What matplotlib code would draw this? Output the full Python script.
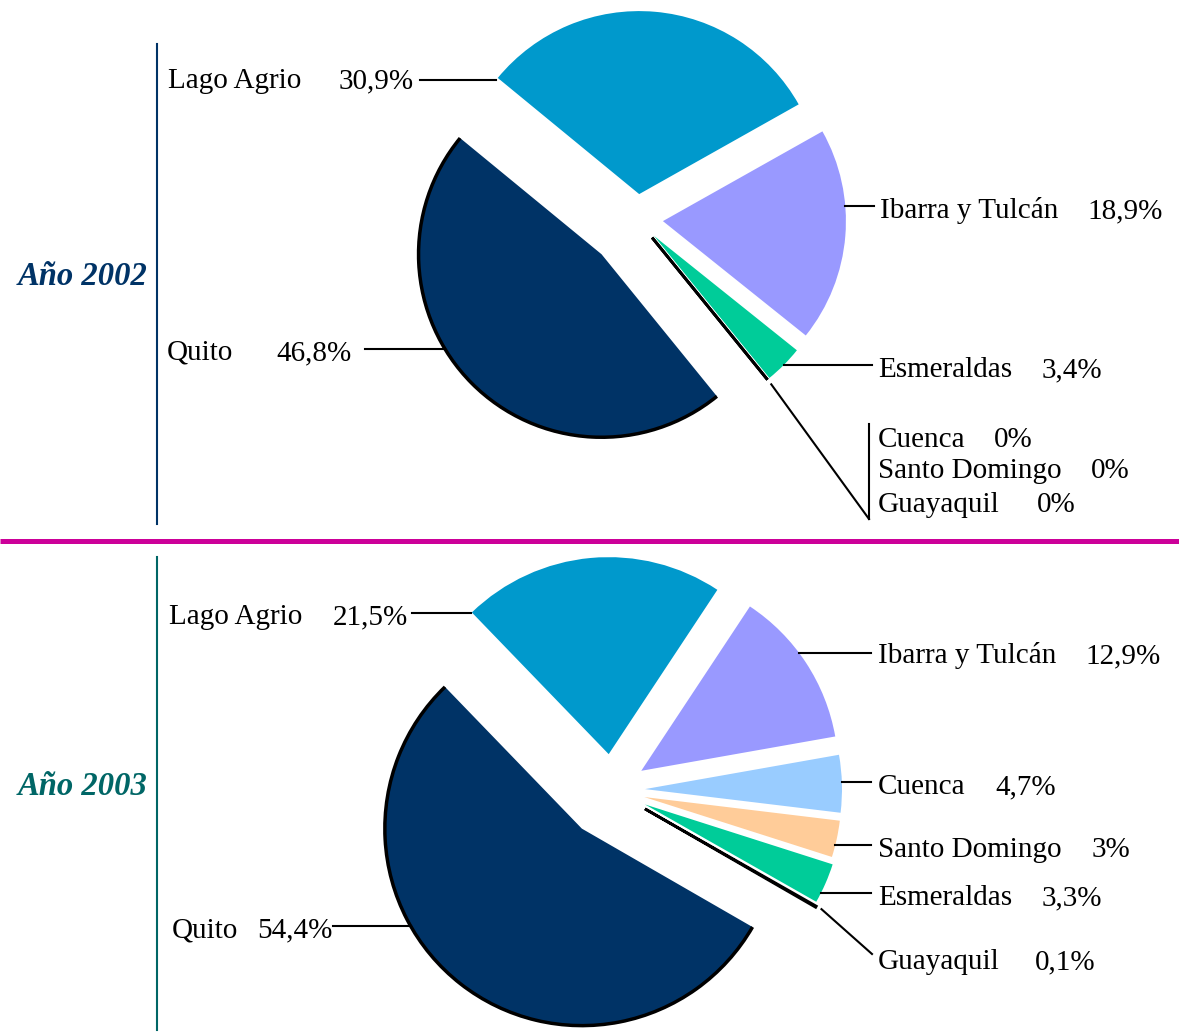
import numpy as np
import matplotlib.pyplot as plt
from matplotlib.patches import Arc

plt.rcParams['font.family'] = ['Liberation Serif', 'DejaVu Serif']

# datos
zonas_2002 = ["Lago Agrio", "Ibarra y Tulcán", "Esmeraldas", "Cuenca",
              "Santo Domingo", "Guayaquil", "Quito"]
valores_2002 = [30.9, 18.9, 3.4, 0, 0, 0, 46.8]

zonas_2003 = ["Lago Agrio", "Ibarra y Tulcán", "Cuenca", "Santo Domingo",
              "Esmeraldas", "Guayaquil", "Quito"]
valores_2003 = [21.5, 12.9, 4.7, 3, 3.3, 0.1, 54.4]

colores = {"Lago Agrio": "#0099CC", "Ibarra y Tulcán": "#9999FF",
           "Esmeraldas": "#00CC99", "Cuenca": "#99CCFF",
           "Santo Domingo": "#FFCC99", "Guayaquil": "#000000",
           "Quito": "#003366"}

FS = 21
LW = 1.5


def pct(v):
    return f"{v:g}".replace(".", ",") + "%"


fig = plt.figure(figsize=(11.79, 10.32), dpi=100)
ax = fig.add_axes([0, 0, 1, 1])


def dibujar(zonas, valores, centro, radio, inicio, explode):
    # eje y invertido: counterclock=True se ve en sentido horario
    wedges, _ = ax.pie(valores, colors=[colores[z] for z in zonas],
                       startangle=-inicio, counterclock=True, center=centro,
                       radius=radio, explode=explode, frame=True,
                       wedgeprops=dict(linewidth=0))
    for w, v in zip(wedges, valores):
        if v < 0.5:
            w.set_edgecolor("black")
            w.set_linewidth(2.0)
    q = wedges[zonas.index("Quito")]
    ax.add_patch(Arc(q.center, 2 * q.r, 2 * q.r, theta1=q.theta1,
                     theta2=q.theta2, color="black", lw=2.5))
    return dict(zip(zonas, wedges))


def borde_x(w, y, lado):
    cx, cy = w.center
    return cx + lado * np.sqrt(max(w.r ** 2 - (y - cy) ** 2, 0))


def etiqueta(zona, valor, xn, xp, base):
    ax.text(xn, base, zona, fontsize=FS, ha="left", va="baseline")
    ax.text(xp, base, pct(valor), fontsize=FS, ha="right", va="baseline")


def punta(w, extra):
    cx, cy = w.center
    a = np.radians(w.theta1)
    return cx + (w.r + extra) * np.cos(a), cy + (w.r + extra) * np.sin(a)


# ---- 2002 ----
w02 = dibujar(zonas_2002, valores_2002, (637, 219), 183, 140.6,
              [25, 26, 24, 24, 24, 24, 50])
v02 = dict(zip(zonas_2002, valores_2002))

# izquierda: (zona, x nombre, x derecha %, base, y linea, inicio linea)
for z, xn, xp, base, yl, x0 in [("Lago Agrio", 168, 414, 88, 80, 420),
                                ("Quito", 167, 352, 360, 349, 365)]:
    etiqueta(z, v02[z], xn, xp, base)
    ax.plot([x0, borde_x(w02[z], yl, -1)], [yl, yl], color="black", lw=LW)

for z, xn, xp, base, yl in [("Ibarra y Tulcán", 880, 1163, 218, 206),
                            ("Esmeraldas", 878, 1102, 377, 365)]:
    etiqueta(z, v02[z], xn, xp, base)
    ax.plot([borde_x(w02[z], yl, 1), xn - 6], [yl, yl], color="black", lw=LW)

for z, xp, base in [("Cuenca", 1033, 447), ("Santo Domingo", 1130, 478),
                    ("Guayaquil", 1076, 512)]:
    etiqueta(z, v02[z], 878, xp, base)
px, py = punta(w02["Cuenca"], 6)
ax.plot([px, 869], [py, 519], color="black", lw=LW)
ax.plot([869, 869], [424, 519], color="black", lw=LW)

# ---- 2003 ----
w03 = dibujar(zonas_2003, valores_2003, (612, 790), 197, 134,
              [36, 35, 33, 33, 36, 38, 49])
v03 = dict(zip(zonas_2003, valores_2003))

for z, xn, xp, base, yl, x0 in [("Lago Agrio", 169, 408, 624, 613, 412),
                                ("Quito", 172, 333, 937, 926, 333)]:
    etiqueta(z, v03[z], xn, xp, base)
    ax.plot([x0, borde_x(w03[z], yl, -1)], [yl, yl], color="black", lw=LW)

for z, xp, base, yl in [("Ibarra y Tulcán", 1161, 663, 653),
                        ("Cuenca", 1056, 794, 782),
                        ("Santo Domingo", 1130, 857, 845),
                        ("Esmeraldas", 1102, 905, 893)]:
    etiqueta(z, v03[z], 878, xp, base)
    ax.plot([borde_x(w03[z], yl, 1), 871], [yl, yl], color="black", lw=LW)

etiqueta("Guayaquil", v03["Guayaquil"], 878, 1096, 969)
px, py = punta(w03["Guayaquil"], 6)
ax.plot([px, 872], [py, 954], color="black", lw=LW)

# marco
ax.text(18, 285, "Año 2002", fontsize=23.5, fontweight="bold",
        fontstyle="italic", color="#003366", va="baseline")
ax.text(18, 795, "Año 2003", fontsize=23.5, fontweight="bold",
        fontstyle="italic", color="#006666", va="baseline")
ax.plot([157, 157], [44, 524], color="#003366", lw=1.5)
ax.plot([157, 157], [557, 1030], color="#006666", lw=1.5)
ax.plot([0, 1179], [541, 541], color="#CC0099", lw=3.6, solid_capstyle="butt")

ax.set_xlim(0, 1179)
ax.set_ylim(1032, 0)
ax.axis("off")

fig.savefig("out.png", dpi=100)
